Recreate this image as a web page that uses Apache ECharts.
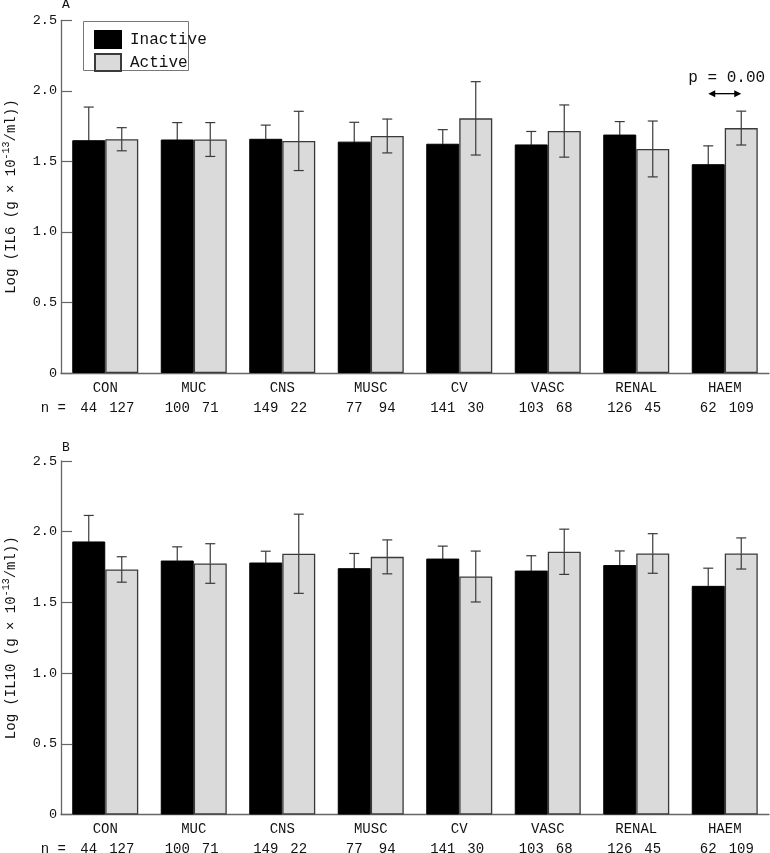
<!DOCTYPE html>
<html>
<head>
<meta charset="utf-8">
<script src="https://cdn.jsdelivr.net/npm/echarts@6/dist/echarts.min.js"></script>
<style>
html,body{margin:0;padding:0;background:#fff;}
#chart{width:770px;height:853px;}
</style>
</head>
<body>
<div id="chart"></div>
<script>
// ---- data ----
const categories = ['CON','MUC','CNS','MUSC','CV','VASC','RENAL','HAEM'];
const nInactive = [44,100,149,77,141,103,126,62];
const nActive   = [127,71,22,94,30,68,45,109];

const il6Inactive    = [1.650,1.655,1.660,1.640,1.625,1.620,1.690,1.480];
const il6InactiveErr = [0.235,0.120,0.097,0.137,0.100,0.092,0.092,0.130];
const il6Active      = [1.657,1.655,1.645,1.680,1.805,1.715,1.588,1.736];
const il6ActiveErr   = [0.082,0.120,0.210,0.120,0.260,0.185,0.198,0.120];

const il10Inactive    = [1.931,1.796,1.782,1.742,1.810,1.725,1.764,1.617];
const il10InactiveErr = [0.184,0.097,0.080,0.104,0.088,0.105,0.100,0.125];
const il10Active      = [1.733,1.775,1.844,1.822,1.683,1.858,1.846,1.846];
const il10ActiveErr   = [0.090,0.140,0.280,0.120,0.180,0.160,0.140,0.110];

const yTicks = [0,0.5,1.0,1.5,2.0,2.5];
const pAnnotation = {category:'HAEM', y:1.98, text:'p = 0.00'};

// ---- style ----
const FONT = '"Liberation Mono", "DejaVu Sans Mono", monospace';
const BAR_W = 33;
const ERR_COLOR = '#3a3a3a';
const AXIS_COLOR = '#666';
const ACTIVE_FILL = '#dadada';
const TEXT_COLOR = '#111';

const chart = echarts.init(document.getElementById('chart'));

function errData(mean, err){
  return mean.map((m,i)=>[i, m-err[i], m+err[i], m]);
}
function errRender(sign, lowColor){
  return function(params, api){
    const i = api.value(0);
    const lo = api.coord([i, api.value(1)]);
    const hi = api.coord([i, api.value(2)]);
    const mid = api.coord([i, api.value(3)]);
    const x = lo[0] + sign*BAR_W/2;
    const cap = 5;
    const st = {stroke: ERR_COLOR, lineWidth: 1.2};
    return {type:'group', children:[
      {type:'line', shape:{x1:x,y1:mid[1],x2:x,y2:hi[1]}, style:st},
      {type:'line', shape:{x1:x,y1:mid[1],x2:x,y2:lo[1]}, style:{stroke: lowColor, lineWidth:1.2}},
      {type:'line', shape:{x1:x-cap,y1:hi[1],x2:x+cap,y2:hi[1]}, style:st},
      {type:'line', shape:{x1:x-cap,y1:lo[1],x2:x+cap,y2:lo[1]}, style:{stroke: lowColor, lineWidth:1.2}}
    ]};
  };
}
function nRender(params, api){
  const i = api.value(0);
  const c = api.coord([i, 0]);
  const y = c[1] + 35;
  const ts = {fontFamily: FONT, fontSize: 14, fill:TEXT_COLOR, textAlign:'center', textVerticalAlign:'middle'};
  const kids = [
    {type:'text', style:Object.assign({text:String(api.value(1)), x:c[0]-BAR_W/2, y:y}, ts)},
    {type:'text', style:Object.assign({text:String(api.value(2)), x:c[0]+BAR_W/2, y:y}, ts)}
  ];
  if (i === 0) {
    kids.push({type:'text', style:Object.assign({text:'n =', x:c[0]-52, y:y}, ts)});
  }
  return {type:'group', children:kids};
}
function pRender(params, api){
  const i = api.value(0);
  const c = api.coord([i, api.value(1)]);
  const x1 = c[0]-BAR_W/2, x2 = c[0]+BAR_W/2, y = c[1];
  const ah = 7, aw = 3.5;
  return {type:'group', children:[
    {type:'line', shape:{x1:x1+ah-1,y1:y,x2:x2-ah+1,y2:y}, style:{stroke:'#000', lineWidth:1.3}},
    {type:'polygon', shape:{points:[[x1,y],[x1+ah,y-aw],[x1+ah,y+aw]]}, style:{fill:'#000'}},
    {type:'polygon', shape:{points:[[x2,y],[x2-ah,y-aw],[x2-ah,y+aw]]}, style:{fill:'#000'}},
    {type:'text', style:{text:pAnnotation.text, x:c[0]+2, y:y-16, fontFamily:FONT, fontSize:16, fill:TEXT_COLOR, textAlign:'center', textVerticalAlign:'middle'}}
  ]};
}

function xAxisCfg(gi){
  return {
    type:'category', gridIndex:gi, data:categories,
    axisLine:{lineStyle:{color:AXIS_COLOR, width:1.3}},
    axisTick:{inside:true, length:12, alignWithLabel:false, lineStyle:{color:AXIS_COLOR, width:1.2}},
    axisLabel:{fontFamily:FONT, fontSize:14, color:TEXT_COLOR, margin:8},
    splitLine:{show:false}
  };
}
function yAxisCfg(gi, name){
  return {
    type:'value', gridIndex:gi, min:0, max:2.5, interval:0.5,
    axisLine:{show:true, lineStyle:{color:AXIS_COLOR, width:1.3}},
    axisTick:{show:true, inside:true, length:11, lineStyle:{color:AXIS_COLOR, width:1.2}},
    axisLabel:{fontFamily:FONT, fontSize:13.5, color:TEXT_COLOR, margin:4,
      formatter: v => (v===0 ? '0' : v.toFixed(1))},
    splitLine:{show:false},
    name: name,
    nameLocation:'middle', nameRotate:90, nameGap:36,
    nameTextStyle:{fontFamily:FONT, fontSize:14, color:TEXT_COLOR, lineHeight:20,
      rich:{
        t:{fontFamily:FONT, fontSize:14, color:TEXT_COLOR, lineHeight:20},
        sup:{fontFamily:FONT, fontSize:10, color:TEXT_COLOR, lineHeight:10, verticalAlign:'top'}
      }}
  };
}

const option = {
  animation:false,
  backgroundColor:'#fff',
  title:[
    {text:'A', left:62, top:-2, padding:0, textStyle:{fontFamily:FONT, fontSize:13, fontWeight:'normal', color:TEXT_COLOR}},
    {text:'B', left:62, top:441, padding:0, textStyle:{fontFamily:FONT, fontSize:13, fontWeight:'normal', color:TEXT_COLOR}}
  ],
  legend:{
    orient:'vertical', left:89, top:25,
    itemWidth:26, itemHeight:17, itemGap:4,
    icon:'rect',
    data:['Inactive','Active'],
    textStyle:{fontFamily:FONT, fontSize:16, color:TEXT_COLOR, padding:[0,0,0,4]},
    selectedMode:false
  },
  graphic:[
    {type:'rect', left:81, top:19, shape:{width:105, height:49}, style:{fill:'none', stroke:'#777', lineWidth:1}, z:-1}
  ],
  grid:[
    {left:61, right:1, top:20.3, height:352.7, containLabel:false, outerBoundsMode:'none'},
    {left:61, right:1, top:461, height:353.5, containLabel:false, outerBoundsMode:'none'}
  ],
  xAxis:[xAxisCfg(0), xAxisCfg(1)],
  yAxis:[
    yAxisCfg(0, '{t|Log (IL6 (g × 10}{sup|-13}{t|/ml))}'),
    yAxisCfg(1, '{t|Log (IL10 (g × 10}{sup|-13}{t|/ml))}')
  ],
  series:[
    {name:'Inactive', type:'bar', xAxisIndex:0, yAxisIndex:0, data:il6Inactive, barWidth:BAR_W, barGap:'0%',
      itemStyle:{color:'#000', borderColor:'#000', borderWidth:1}},
    {name:'Active', type:'bar', xAxisIndex:0, yAxisIndex:0, data:il6Active, barWidth:BAR_W, barGap:'0%',
      itemStyle:{color:ACTIVE_FILL, borderColor:'#3a3a3a', borderWidth:1.3}},
    {name:'Inactive', type:'bar', xAxisIndex:1, yAxisIndex:1, data:il10Inactive, barWidth:BAR_W, barGap:'0%',
      itemStyle:{color:'#000', borderColor:'#000', borderWidth:1}},
    {name:'Active', type:'bar', xAxisIndex:1, yAxisIndex:1, data:il10Active, barWidth:BAR_W, barGap:'0%',
      itemStyle:{color:ACTIVE_FILL, borderColor:'#3a3a3a', borderWidth:1.3}},
    {type:'custom', xAxisIndex:0, yAxisIndex:0, data:errData(il6Inactive, il6InactiveErr), renderItem:errRender(-1,'#000'), encode:{x:0,y:[1,2]}, z:5, clip:false},
    {type:'custom', xAxisIndex:0, yAxisIndex:0, data:errData(il6Active, il6ActiveErr), renderItem:errRender(1,ERR_COLOR), encode:{x:0,y:[1,2]}, z:5, clip:false},
    {type:'custom', xAxisIndex:1, yAxisIndex:1, data:errData(il10Inactive, il10InactiveErr), renderItem:errRender(-1,'#000'), encode:{x:0,y:[1,2]}, z:5, clip:false},
    {type:'custom', xAxisIndex:1, yAxisIndex:1, data:errData(il10Active, il10ActiveErr), renderItem:errRender(1,ERR_COLOR), encode:{x:0,y:[1,2]}, z:5, clip:false},
    {type:'custom', xAxisIndex:0, yAxisIndex:0, data:categories.map((c,i)=>[i, nInactive[i], nActive[i]]), renderItem:nRender, encode:{x:0,y:1}, clip:false, silent:true},
    {type:'custom', xAxisIndex:1, yAxisIndex:1, data:categories.map((c,i)=>[i, nInactive[i], nActive[i]]), renderItem:nRender, encode:{x:0,y:1}, clip:false, silent:true},
    {type:'custom', xAxisIndex:0, yAxisIndex:0, data:[[categories.indexOf(pAnnotation.category), pAnnotation.y]], renderItem:pRender, encode:{x:0,y:1}, clip:false, silent:true}
  ]
};
chart.setOption(option);
</script>
</body>
</html>
